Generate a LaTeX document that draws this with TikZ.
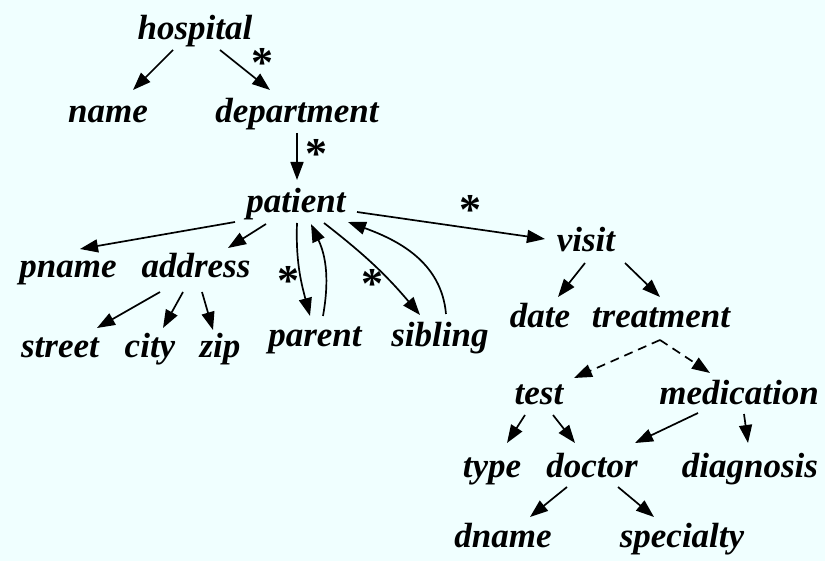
\documentclass[tikz,border=0pt]{standalone}
\usepackage{fontspec}
\setmainfont{Liberation Serif}
\usetikzlibrary{arrows.meta,calc}
\definecolor{bgcyan}{RGB}{240,255,255}
\begin{document}
\begin{tikzpicture}[x=1pt,y=-1pt,
  lbl/.style={anchor=base,inner sep=0pt,text height=25pt,text depth=8pt,
    font=\fontsize{35}{40}\selectfont\bfseries\itshape},
  star/.style={inner sep=0pt,font=\fontsize{44}{44}\selectfont\bfseries},
  edge/.style={line width=1.7pt,-{Triangle[length=18pt,width=13pt]}},
  dashedge/.style={edge,dash pattern=on 9pt off 6pt}]
\fill[bgcyan] (0,0) rectangle (825,561);
\useasboundingbox (0,0) rectangle (825,561);

% element names
\node[lbl] (hospital)   at (195,40)  {hospital};
\node[lbl] (name)       at (108,123) {name};
\node[lbl] (department) at (297,123) {department};
\node[lbl] (patient)    at (296,213) {patient};
\node[lbl] (pname)      at (68,278)  {pname};
\node[lbl] (address)    at (196,278) {address};
\node[lbl] (street)     at (60,358)  {street};
\node[lbl] (city)       at (150,358) {city};
\node[lbl] (zip)        at (220,358) {zip};
\node[lbl] (parent)     at (315,347) {parent};
\node[lbl] (sibling)    at (440,347) {sibling};
\node[lbl] (visit)      at (586,252) {visit};
\node[lbl] (date)       at (540,328) {date};
\node[lbl] (treatment)  at (661,328) {treatment};
\node[lbl] (test)       at (539,405) {test};
\node[lbl] (medication) at (739,405) {medication};
\node[lbl] (type)       at (492,477) {type};
\node[lbl] (doctor)     at (592,477) {doctor};
\node[lbl] (diagnosis)  at (750,477) {diagnosis};
\node[lbl] (dname)      at (503,547) {dname};
\node[lbl] (specialty)  at (682,547) {specialty};

% repetition marks
\node[star] (s1) at (262,63)  {*};
\node[star] (s2) at (316,154) {*};
\node[star] (s3) at (288,281) {*};
\node[star] (s4) at (372,284) {*};
\node[star] (s5) at (470,210) {*};

% edges
\draw[edge] ($(hospital.base)+(-22,10)$) -- ($(name.base)+(25,-33)$);
\draw[edge] ($(hospital.base)+(25,10)$) -- ($(department.base)+(-27,-33)$);
\draw[edge] ($(department.base)+(0,10)$) -- ($(patient.base)+(1,-33)$);
\draw[edge] ($(patient.base)+(-61,9)$) -- ($(pname.base)+(12,-29)$);
\draw[edge] ($(patient.base)+(-30,11)$) -- ($(address.base)+(32,-30)$);
\draw[edge] ($(address.base)+(-36,14)$) -- ($(street.base)+(37,-30)$);
\draw[edge] ($(address.base)+(-13,14)$) -- ($(city.base)+(13,-30)$);
\draw[edge] ($(address.base)+(6,14)$) -- ($(zip.base)+(-7,-28)$);
\draw[edge] ($(patient.base)+(1,10)$) to[out=-92,in=105] ($(parent.base)+(-5,-31)$);
\draw[edge] ($(parent.base)+(8,-31)$) to[out=80,in=-65] ($(patient.base)+(15,11)$);
\draw[edge] ($(patient.base)+(28,10)$) to[bend left=6] ($(sibling.base)+(-20,-32)$);
\draw[edge] ($(sibling.base)+(6,-33)$) to[out=95,in=-20] ($(patient.base)+(52,9)$);
\draw[edge] ($(patient.base)+(61,-1)$) -- ($(visit.base)+(-41,-13)$);
\draw[edge] ($(visit.base)+(-1,11)$) -- ($(date.base)+(18,-31)$);
\draw[edge] ($(visit.base)+(39,11)$) -- ($(treatment.base)+(-1,-31)$);
\draw[dashedge] ($(treatment.base)+(-1,12)$) -- ($(test.base)+(35,-27)$);
\draw[dashedge] ($(treatment.base)+(-1,12)$) -- ($(medication.base)+(-29,-32)$);
\draw[edge] ($(test.base)+(-14,10)$) -- ($(type.base)+(15,-34)$);
\draw[edge] ($(test.base)+(14,10)$) -- ($(doctor.base)+(-17,-34)$);
\draw[edge] ($(medication.base)+(-41,8)$) -- ($(doctor.base)+(43,-34)$);
\draw[edge] ($(medication.base)+(5,9)$) -- ($(diagnosis.base)+(-2,-34)$);
\draw[edge] ($(doctor.base)+(-25,10)$) -- ($(dname.base)+(27,-30)$);
\draw[edge] ($(doctor.base)+(26,10)$) -- ($(specialty.base)+(-28,-30)$);
\end{tikzpicture}
\end{document}
